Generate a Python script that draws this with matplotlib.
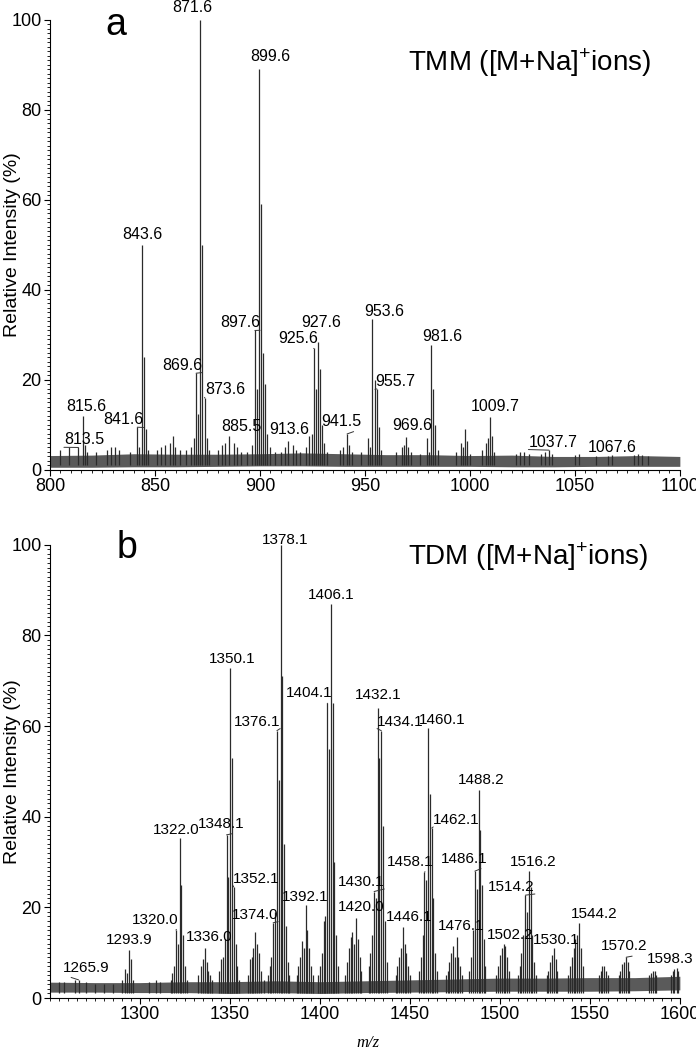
import matplotlib
matplotlib.use('Agg')
import matplotlib.pyplot as plt
from matplotlib.ticker import MultipleLocator

plt.rcParams['mathtext.fontset'] = 'custom'
plt.rcParams['mathtext.rm'] = 'Liberation Sans'

SANS = ['Liberation Sans', 'DejaVu Sans']

# ---- panel a: TMM ----
tmm_mz = [805, 809, 813.5, 815.6, 816.6, 817.6, 822, 827, 829, 831, 833, 838, 841.6, 842.6, 843.6, 844.6, 845.6, 846.6,
          851, 853, 855, 857, 858.6, 859.6, 862, 865, 867, 868.6, 869.6, 870.6, 871.6, 872.6, 873.6, 874.6, 875.6,
          880, 882, 883.5, 885.5, 887.5, 889, 891, 894, 896, 897.6, 898.6, 899.6, 900.6, 901.6, 902.6, 903.6, 905, 907,
          910, 912, 913.6, 915.6, 917, 919, 922, 923.6, 924.6, 925.6, 926.6, 927.6, 928.6, 929.6, 930.6, 932,
          938, 939.5, 941.5, 942.5, 944, 948, 951.6, 952.6, 953.6, 954.6, 955.7, 956.7, 957.7,
          965, 967.6, 968.6, 969.6, 970.6, 972, 976, 979.6, 980.6, 981.6, 982.6, 983.6, 984.6,
          993.6, 995.6, 996.6, 997.6, 998.6, 1000, 1005.7, 1007.7, 1008.7, 1009.7, 1010.7, 1011.7,
          1022, 1024, 1026, 1028, 1034, 1035.7, 1037.7, 1039, 1050, 1052, 1060, 1065.6, 1067.6, 1078, 1080, 1082, 1085]
tmm_int = [4.5, 5, 5, 12, 5.5, 4, 4, 4.5, 5, 5, 4.5, 4, 9.5, 5, 50, 25, 9, 4.5,
           4.5, 5, 5.5, 6, 7.5, 5, 4.5, 4.5, 5, 7, 21.5, 12.5, 100, 50, 16, 7, 4.5,
           4.5, 5.5, 6, 7.5, 6, 5, 4, 4, 5.5, 31, 18, 89, 59, 26, 19, 8, 5, 4,
           4, 5, 6.5, 5.5, 4.5, 4, 5, 7.5, 8, 27, 18, 28.5, 22.5, 10, 6, 4,
           4.5, 5, 8, 5.5, 4, 4, 7, 5, 33.5, 20, 18, 9.5, 4.5,
           4, 5, 5.5, 7.3, 5, 4, 3.5, 7, 4, 27.8, 18, 10, 4.5,
           4, 6, 5, 9, 6.5, 3.5, 4.5, 6, 7, 11.8, 7.5, 4,
           3.5, 4, 4, 3.5, 3.5, 4, 4.4, 3.5, 3.3, 3.5, 3, 3.2, 3.3, 3.3, 3.5, 3.3, 3]
tmm_noise_mz = [800, 820, 840, 860, 880, 900, 920, 940, 960, 980, 1000, 1020, 1040, 1060, 1080, 1100]
tmm_noise_lo = [0.6, 0.6, 0.7, 0.7, 0.8, 0.9, 0.9, 0.8, 0.8, 0.8, 0.8, 0.7, 0.7, 0.8, 0.8, 0.8]
tmm_noise_hi = [3.2, 3.3, 3.6, 3.5, 3.5, 3.6, 3.8, 3.6, 3.4, 3.4, 3.2, 3.3, 3.0, 3.0, 3.2, 3.0]

tmm_lab_mz = [871.6, 899.6, 843.6, 897.6, 925.6, 927.6, 869.6, 873.6, 815.6, 813.5, 841.6,
              885.5, 913.6, 941.5, 953.6, 955.7, 981.6, 969.6, 1009.7, 1037.7, 1067.6]
tmm_lab_int = [100, 89, 50, 31, 27, 28.5, 21.5, 16, 12, 5, 9.5,
               7.5, 6.5, 8, 33.5, 18, 27.8, 7.3, 11.8, 4.4, 3.3]
# text centre (m/z, %) and whether a leader line is drawn
tmm_lab_xy = [(867.6, 102.7), (905.1, 91.8), (844.1, 52.4), (890.5, 32.7), (918.1, 29.3), (929.4, 32.7),
              (862.9, 23.3), (883.3, 17.8), (817.4, 14.0), (816.2, 6.7), (835.0, 11.1),
              (891.0, 9.6), (913.8, 8.9), (938.8, 10.8), (959.2, 35.3), (964.3, 19.6), (987.1, 29.6),
              (972.7, 9.8), (1011.9, 14.2), (1039.5, 6.2), (1067.6, 4.9)]
tmm_lab_lead = [0, 0, 0, 1, 1, 0, 1, 1, 0, 1, 1,
                0, 0, 1, 0, 1, 0, 0, 0, 1, 0]

# ---- panel b: TDM ----
tdm_mz = [1255, 1258, 1263.9, 1265.9, 1270, 1275, 1280, 1285, 1290, 1291.9, 1292.9, 1293.9, 1294.9, 1295.9, 1305, 1309, 1311,
          1317, 1318, 1319, 1320.0, 1321.0, 1322.0, 1323.0, 1324.0, 1325.0, 1326,
          1332, 1334, 1335, 1336.0, 1337, 1338, 1339, 1340,
          1344, 1345, 1346, 1347, 1348.1, 1349.1, 1350.1, 1351.1, 1352.1, 1353.1, 1354, 1355,
          1360, 1361, 1362, 1363, 1364, 1365, 1366, 1367, 1369,
          1371, 1372, 1373, 1374.0, 1375.1, 1376.1, 1377.1, 1378.1, 1379.1, 1380.1, 1381.1, 1382, 1383,
          1387, 1388, 1389, 1390, 1391, 1392.1, 1393, 1394, 1395, 1396,
          1399, 1400, 1401, 1402, 1403, 1404.1, 1405.1, 1406.1, 1407.1, 1408.1, 1409.1, 1410,
          1414, 1415, 1416, 1417, 1418, 1419, 1420.0, 1421, 1422, 1423,
          1427, 1428, 1429, 1430.1, 1431.1, 1432.1, 1433.1, 1434.1, 1435.1, 1436, 1437,
          1442, 1443, 1444, 1445, 1446.1, 1447, 1448, 1449, 1450,
          1455, 1456, 1457, 1458.1, 1459.1, 1460.1, 1461.1, 1462.1, 1463.1, 1464, 1465,
          1470, 1471, 1472, 1473, 1474, 1475, 1476.1, 1477, 1478, 1479,
          1483, 1484, 1485, 1486.1, 1487.1, 1488.2, 1489.2, 1490.2, 1491, 1492,
          1498, 1499, 1500, 1501, 1502.2, 1503, 1504, 1505,
          1510, 1511, 1512, 1513, 1514.2, 1515.2, 1516.2, 1517.2, 1518, 1519, 1520,
          1526, 1527, 1528, 1529, 1530.1, 1531, 1532,
          1538, 1539, 1540, 1541, 1542, 1543, 1544.2, 1545, 1546,
          1555, 1556, 1557, 1558, 1559, 1560,
          1566, 1567, 1568, 1569, 1570.2, 1571, 1572,
          1583, 1584, 1585, 1586, 1587,
          1595, 1596, 1597, 1598.3, 1599]
tdm_int = [3.5, 3.5, 4, 4, 3.5, 3.2, 3.2, 3.2, 4, 6.5, 5.5, 10.6, 8.5, 4, 3.5, 4, 3.5,
           4, 5.5, 7, 15, 12, 35.3, 25, 14, 7, 4,
           5, 7, 8.5, 11, 8, 6, 5, 4,
           6, 8.5, 9, 13, 36, 26.7, 72.8, 53, 24.5, 12, 7, 4,
           5, 8.5, 9, 11, 14.5, 12, 10, 6, 4,
           5, 7, 9, 16.6, 19, 59, 48, 100, 71, 34, 16, 8, 5,
           5, 7, 9, 12.5, 11, 20.5, 15, 11, 7, 5,
           5, 7, 10, 17, 18, 65, 55, 87, 65, 30, 14, 7,
           5, 8, 11, 13.5, 14.5, 12, 17.7, 13, 9, 6,
           7, 10, 14, 23.5, 22, 64, 53, 59, 38, 17, 8,
           5, 7, 9, 11, 15.7, 12, 10, 7, 5,
           6, 9, 14, 27.8, 26, 59.6, 45, 37.5, 22, 10, 6,
           5, 6, 8, 10, 11.5, 9, 13.5, 9, 7, 5,
           6, 9, 15, 28, 24, 46, 37, 25, 13, 7,
           5, 7, 9.5, 11, 12, 11.5, 9, 6,
           5, 7, 10, 14, 22.7, 19, 28, 24.5, 14, 8, 5,
           5, 6, 8, 9.5, 11, 8.5, 6,
           5, 7, 9, 11, 13, 14, 16.5, 11, 7,
           5, 6, 7, 7, 6, 5,
           5, 6, 7.5, 8, 9, 8, 6,
           5, 5.5, 6, 6, 5,
           5, 6, 6.5, 6.6, 6]
tdm_noise_mz = [1250, 1275, 1300, 1325, 1350, 1375, 1400, 1425, 1450, 1475, 1500, 1525, 1550, 1575, 1600]
tdm_noise_lo = [1.3, 1.3, 1.2, 1.2, 1.0, 1.2, 1.0, 1.2, 1.3, 1.4, 1.5, 1.5, 1.5, 1.6, 1.8]
tdm_noise_hi = [3.5, 3.4, 3.4, 3.6, 3.6, 3.8, 3.6, 3.8, 4.0, 4.2, 4.4, 4.4, 4.5, 4.5, 4.8]

tdm_lab_mz = [1378.1, 1406.1, 1350.1, 1404.1, 1376.1, 1432.1, 1434.1, 1460.1, 1488.2, 1462.1, 1458.1,
              1486.1, 1516.2, 1514.2, 1430.1, 1420.0, 1446.1, 1476.1, 1502.2, 1530.1, 1544.2, 1570.2,
              1598.3, 1322.0, 1348.1, 1352.1, 1392.1, 1374.0, 1320.0, 1336.0, 1293.9, 1265.9]
tdm_lab_int = [100, 87, 72.8, 65, 59, 64, 59, 59.6, 46, 37.5, 27.8,
               28, 28, 22.7, 23.5, 17.7, 15.7, 13.5, 12, 11, 16.5, 9,
               6.6, 35.3, 36, 24.5, 20.5, 16.6, 15, 11, 10.6, 4]
tdm_lab_xy = [(1380.6, 101.1), (1406.1, 89.0), (1351.1, 74.8), (1393.9, 67.2), (1365.0, 61.0), (1432.5, 66.9),
              (1444.7, 61.0), (1468.0, 61.4), (1489.4, 48.1), (1475.9, 39.3), (1450.3, 30.0),
              (1480.4, 30.7), (1518.5, 30.0), (1506.5, 24.5), (1422.8, 25.6), (1423.0, 20.0), (1449.7, 17.8),
              (1478.7, 15.9), (1505.8, 14.0), (1531.5, 12.9), (1552.2, 18.5), (1568.9, 11.4),
              (1594.4, 8.7), (1320.0, 37.0), (1345.4, 38.4), (1364.8, 26.3), (1391.7, 22.2), (1363.9, 18.4),
              (1308.3, 17.3), (1338.6, 13.4), (1293.9, 12.9), (1270.0, 6.7)]
tdm_lab_lead = [0, 0, 0, 1, 1, 0, 1, 0, 0, 1, 1,
                1, 0, 1, 1, 0, 0, 0, 0, 0, 0, 1,
                0, 0, 1, 1, 0, 1, 1, 0, 0, 1]

fig = plt.figure(figsize=(6.96, 10.49), dpi=100)
ax_a = fig.add_axes([0.0718, 0.552, 0.905, 0.429])
ax_b = fig.add_axes([0.0718, 0.0486, 0.905, 0.432])


def draw_panel(ax, mz, inten, nmz, nlo, nhi, lab_mz, lab_int, lab_xy, lab_lead, xlim, lab_size):
    ax.fill_between(nmz, nlo, nhi, color='#5a5a5a', lw=0)
    ax.vlines(mz, 1.0, inten, color='#2b2b2b', lw=0.9)
    for m, h, (tx, ty), lead in zip(lab_mz, lab_int, lab_xy, lab_lead):
        props = None
        if lead:
            side = 1 if m > tx else 0
            props = dict(arrowstyle='-', lw=0.7, color='#333333', shrinkA=0, shrinkB=0, relpos=(side, 0))
        ax.annotate('%.1f' % m, xy=(m, h), xytext=(tx, ty), ha='center', va='center',
                    fontsize=lab_size, family=SANS, arrowprops=props)
    ax.set_xlim(*xlim)
    ax.set_ylim(0, 100)
    ax.spines['top'].set_visible(False)
    ax.spines['right'].set_visible(False)
    ax.xaxis.set_major_locator(MultipleLocator(50))
    ax.xaxis.set_minor_locator(MultipleLocator(5))
    ax.yaxis.set_major_locator(MultipleLocator(20))
    ax.yaxis.set_minor_locator(MultipleLocator(1))
    ax.tick_params(which='major', direction='out', length=4, width=0.8, pad=2, labelsize=13)
    ax.tick_params(which='minor', direction='out', length=2, width=0.6)
    ax.set_ylabel('Relative Intensity (%)', family=SANS, fontsize=14, va='center')
    ax.yaxis.set_label_coords(-0.06, 0.5)


plt.rcParams['font.family'] = SANS

draw_panel(ax_a, tmm_mz, tmm_int, tmm_noise_mz, tmm_noise_lo, tmm_noise_hi,
           tmm_lab_mz, tmm_lab_int, tmm_lab_xy, tmm_lab_lead, (800, 1100), 11.5)
draw_panel(ax_b, tdm_mz, tdm_int, tdm_noise_mz, tdm_noise_lo, tdm_noise_hi,
           tdm_lab_mz, tdm_lab_int, tdm_lab_xy, tdm_lab_lead, (1250, 1600), 11)

ax_b.set_xticks([1300, 1350, 1400, 1450, 1500, 1550, 1600])
for lab in ax_a.get_xticklabels() + ax_a.get_yticklabels() + ax_b.get_xticklabels() + ax_b.get_yticklabels():
    lab.set_family(SANS)

ax_a.text(0.105, 0.989, 'a', transform=ax_a.transAxes, ha='center', va='center', fontsize=27, family=SANS)
ax_b.text(0.122, 0.993, 'b', transform=ax_b.transAxes, ha='center', va='center', fontsize=27, family=SANS)
ax_a.text(0.568, 0.904, 'TMM ([M+Na]$^{+}$ions)', transform=ax_a.transAxes, ha='left', va='center',
          fontsize=20, family=SANS)
ax_b.text(0.568, 0.974, 'TDM ([M+Na]$^{+}$ions)', transform=ax_b.transAxes, ha='left', va='center',
          fontsize=20, family=SANS)
fig.text(368 / 696, 1 - 1043 / 1049, 'm/z', ha='center', va='center', fontsize=12,
         family=['Liberation Serif', 'DejaVu Serif'], style='italic')

fig.savefig('out.png', dpi=100)
